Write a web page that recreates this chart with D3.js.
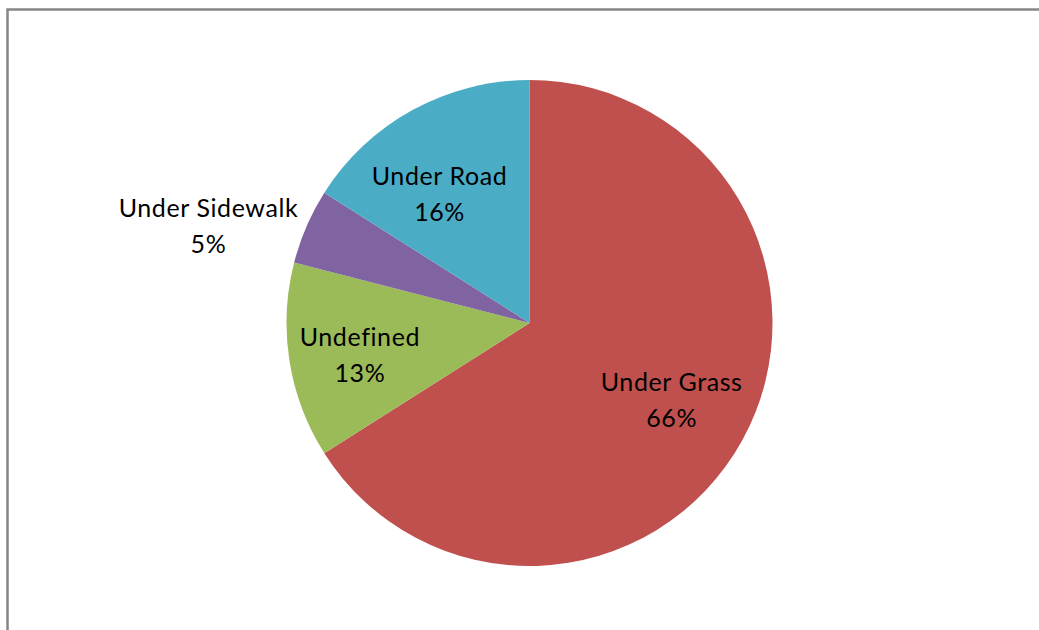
<!DOCTYPE html>
<html><head><meta charset="utf-8">
<script src="https://cdn.jsdelivr.net/npm/d3@7"></script>
<style>body{margin:0;background:#fff}svg{display:block}</style>
</head><body>
<svg id="c" width="1039" height="630"></svg>
<script>
const categories = ["Under Grass", "Undefined", "Under Sidewalk", "Under Road"];
const values = [66, 13, 5, 16];
const colors = ["#C0504D", "#9BBB59", "#8064A2", "#4BACC6"];

const svg = d3.select("#c");
// chart frame (cut off at right/bottom)
svg.append("path").attr("d", "M7.5,700 L7.5,9.5 L1100,9.5")
  .attr("fill", "none").attr("stroke", "#868686").attr("stroke-width", 2.5);

const cx = 529.5, cy = 323, R = 243;
const pie = d3.pie().sort(null).value(d => d)(values);
const arc = d3.arc().innerRadius(0).outerRadius(R);
const g = svg.append("g").attr("transform", `translate(${cx},${cy})`);
g.selectAll("path").data(pie).join("path")
  .attr("d", arc).attr("fill", (d, i) => colors[i]);

// label placement: radial distance factor and small nudges
const lab = [
  {r: 0.684, dx: -3.5, dy: 6},
  {r: 0.718, dx: 2.7, dy: 13.7},
  {r: 1.37, dx: -15.5, dy: 44},
  {r: 0.619, dx: -17.5, dy: 11.3}
];
pie.forEach((d, i) => {
  const a = (d.startAngle + d.endAngle) / 2;
  const rr = R * lab[i].r;
  const x = Math.sin(a) * rr + lab[i].dx;
  const y = -Math.cos(a) * rr + lab[i].dy;
  const t = g.append("text").attr("text-anchor", "middle")
    .attr("font-family", "Lato, 'Open Sans', sans-serif")
    .attr("font-size", 25).attr("letter-spacing", 0.6).attr("fill", "#000");
  t.append("tspan").attr("x", x).attr("y", y - 18).text(categories[i]);
  t.append("tspan").attr("x", x).attr("y", y + 18).text(values[i] + "%");
});
</script>
</body></html>
